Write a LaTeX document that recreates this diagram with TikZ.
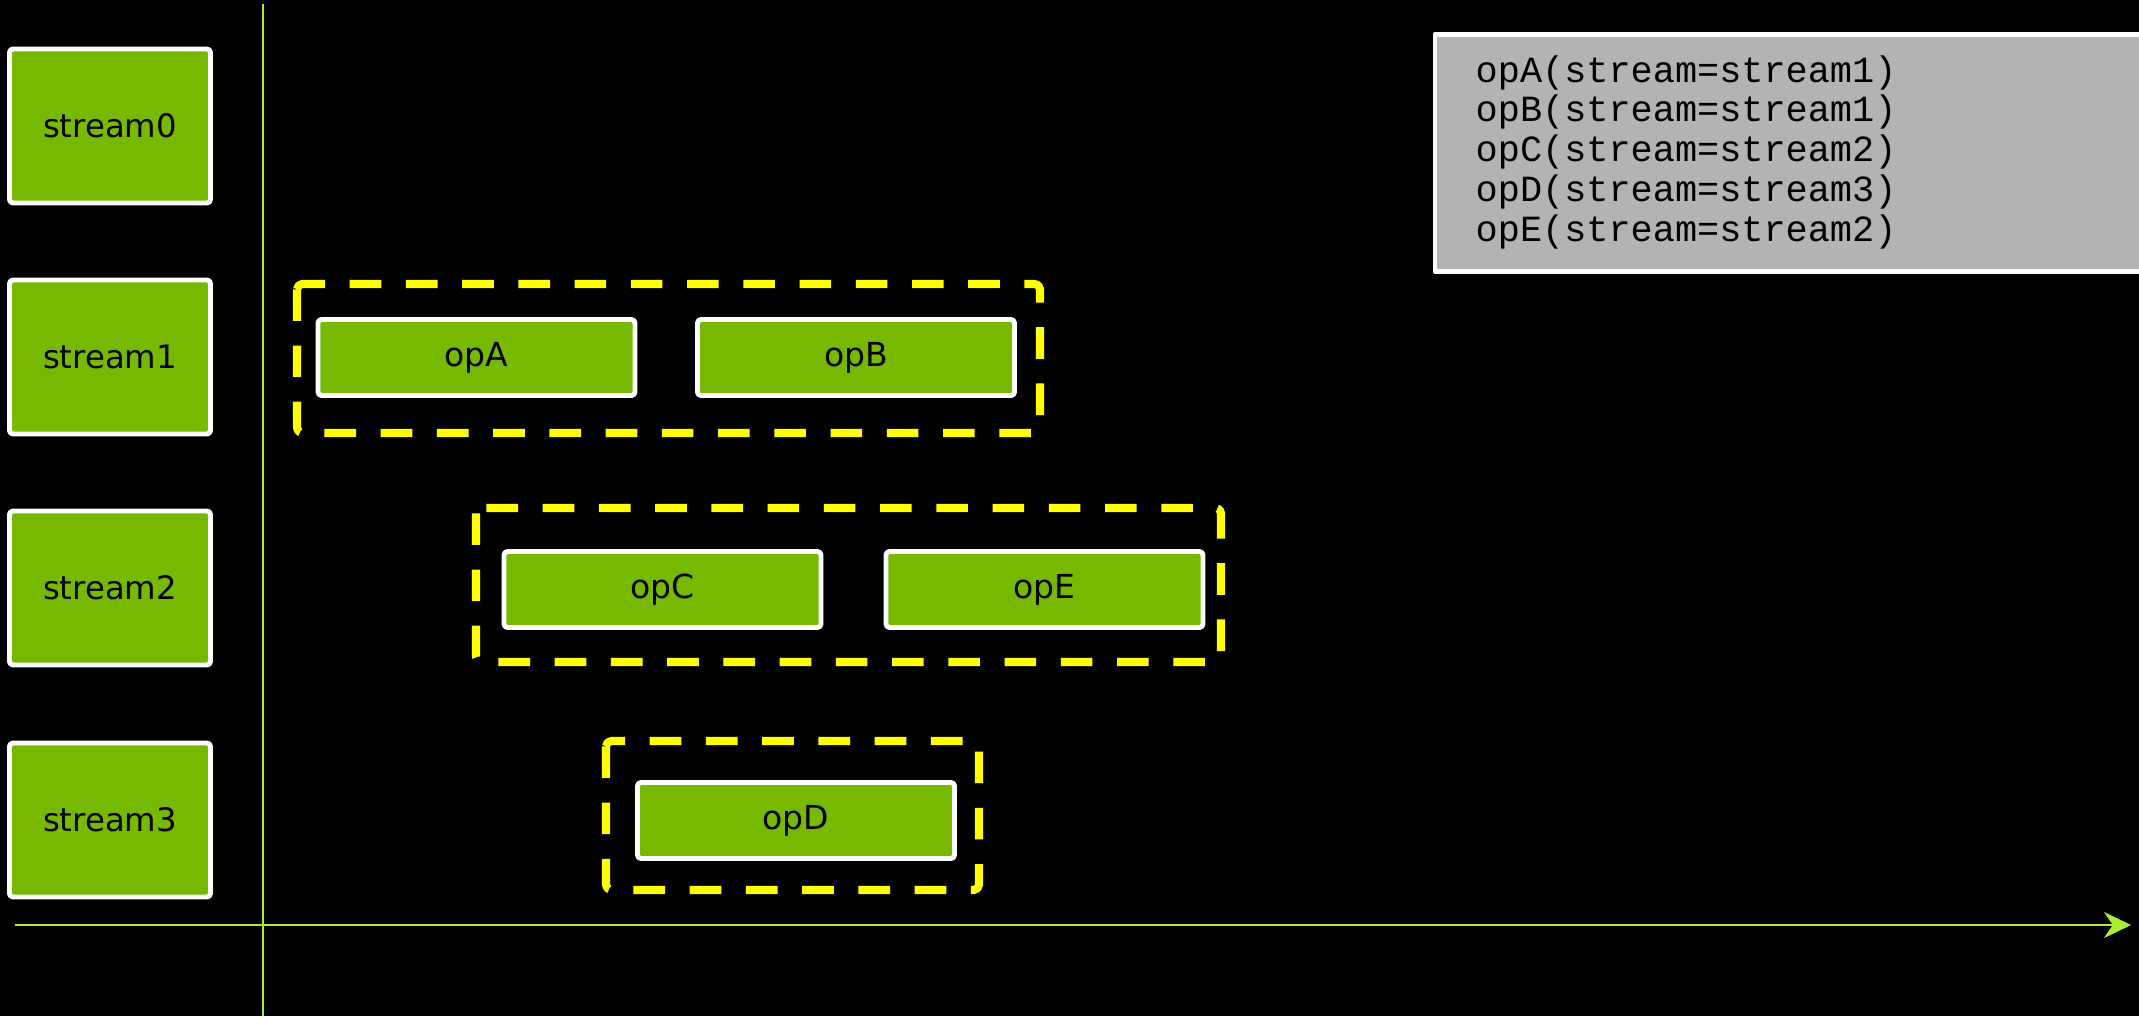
\documentclass[tikz,border=0pt]{standalone}
\usepackage{fontspec}
\setmainfont{DejaVu Sans}
\newfontfamily\codefont{Liberation Mono}
\usepackage{xcolor}
\usetikzlibrary{arrows.meta}
\definecolor{nvgreen}{HTML}{76B900}
\definecolor{axisgreen}{RGB}{170,240,50}
\definecolor{grpyellow}{HTML}{FFFF00}
\definecolor{codegray}{HTML}{B3B3B3}

\begin{document}
\begin{tikzpicture}[>=Stealth,line join=round,
  streambox/.style={draw=white,fill=nvgreen,line width=1.4pt,rounded corners=1pt,
    minimum width=2.01cm,minimum height=1.54cm,font=\fontsize{9.2}{11}\selectfont},
  opbox/.style={draw=white,fill=nvgreen,line width=1.4pt,rounded corners=1pt,
    minimum width=3.17cm,minimum height=0.76cm,font=\fontsize{9.4}{11}\selectfont},
  grpbox/.style={draw=grpyellow,line width=2.3pt,dash pattern=on 9pt off 7pt,rounded corners=1.5pt},
  codetext/.style={anchor=base west,inner sep=0pt,text width=6cm,align=left,
    font=\codefont\fontsize{10.5}{11.38}\selectfont}]
  \fill[black] (0,0) rectangle (21.39,-10.16);
  \useasboundingbox (0,0) rectangle (21.39,-10.16);
  \clip (0,0) rectangle (21.39,-10.16);
  % axes
  \coordinate (yTop) at (2.63,-0.04);
  \coordinate (yBot) at (2.63,-10.16);
  \coordinate (xL) at (0.15,-9.25);
  \coordinate (xR) at (21.31,-9.25);
  \draw[axisgreen,line width=0.6pt] (yTop) -- (yBot);
  \draw[->,axisgreen,line width=0.6pt,>={Stealth[length=0.27cm,width=0.26cm]}] (xL) -- (xR);
  % streams
  \node[streambox] (s0) at (1.10,-1.26) {stream0};
  \node[streambox] (s1) at (1.10,-3.57) {stream1};
  \node[streambox] (s2) at (1.10,-5.88) {stream2};
  \node[streambox] (s3) at (1.10,-8.20) {stream3};
  % operations
  \node[opbox] (opA) at (4.765,-3.575) {opA};
  \node[opbox] (opB) at (8.56,-3.575) {opB};
  \node[opbox] (opC) at (6.625,-5.895) {opC};
  \node[opbox] (opE) at (10.445,-5.895) {opE};
  \node[opbox] (opD) at (7.96,-8.205) {opD};
  % stream groups
  \draw[grpbox] (2.97,-2.84) rectangle (10.40,-4.33);
  \draw[grpbox] (4.76,-5.08) rectangle (12.21,-6.62);
  \draw[grpbox] (6.06,-7.41) rectangle (9.79,-8.90);
  % code listing
  \draw[white,fill=codegray,line width=1.4pt] (14.35,-0.345) rectangle (21.60,-2.715);
  \node[codetext] (code) at (14.75,-0.82) {opA(stream=stream1)\\opB(stream=stream1)\\opC(stream=stream2)\\opD(stream=stream3)\\opE(stream=stream2)};
\end{tikzpicture}
\end{document}
